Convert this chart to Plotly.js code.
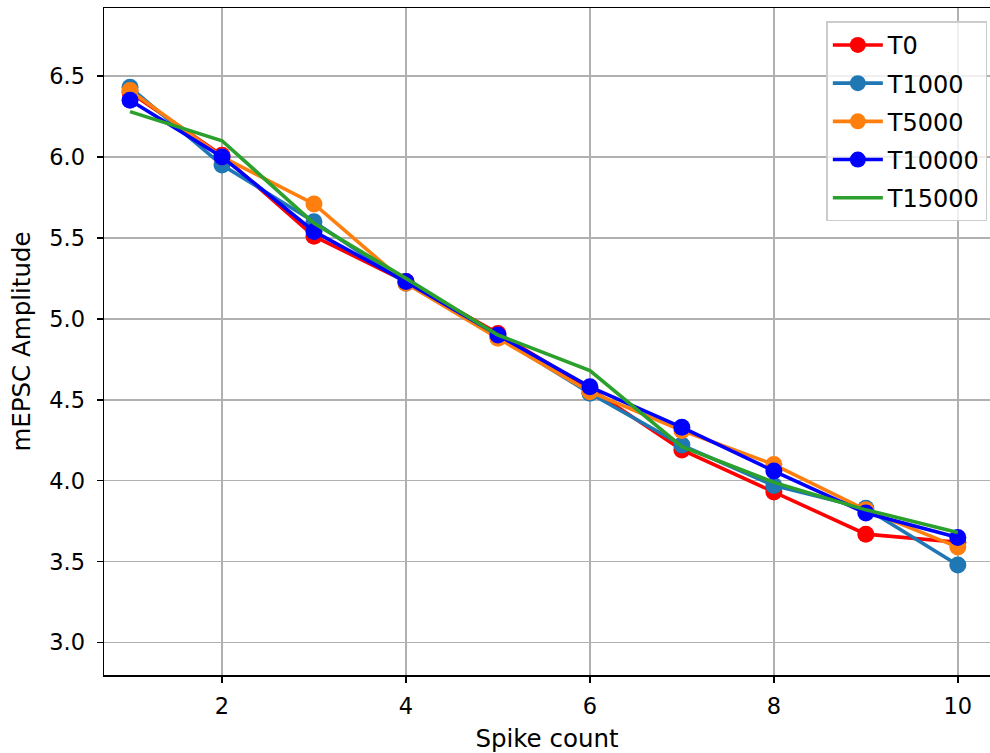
<!DOCTYPE html>
<html>
<head>
<meta charset="utf-8">
<script src="https://cdn.plot.ly/plotly-3.0.1.min.js"></script>
<style>html,body{margin:0;padding:0;background:#fff}#chart{width:990px;height:753px}</style>
</head>
<body>
<div id="chart"></div>
<script>
const spikeCount = [1, 2, 3, 4, 5, 6, 7, 8, 9, 10];
const T0 = [6.40, 6.01, 5.51, 5.23, 4.91, 4.57, 4.19, 3.93, 3.67, 3.62];
const T1000 = [6.43, 5.95, 5.60, 5.22, 4.89, 4.54, 4.22, 3.97, 3.83, 3.48];
const T5000 = [6.41, 6.00, 5.71, 5.22, 4.88, 4.55, 4.31, 4.10, 3.82, 3.59];
const T10000 = [6.35, 6.00, 5.54, 5.23, 4.90, 4.58, 4.33, 4.06, 3.80, 3.65];
const T15000 = [6.28, 6.10, 5.59, 5.25, 4.90, 4.68, 4.21, 3.99, 3.82, 3.68];
const seriesNames = ['T0', 'T1000', 'T5000', 'T10000', 'T15000'];
const seriesValues = [T0, T1000, T5000, T10000, T15000];
const seriesColors = ['#ff0000', '#1f77b4', '#ff7f0e', '#0000ff', '#2ca02c'];
const seriesModes = ['lines+markers', 'lines+markers', 'lines+markers', 'lines+markers', 'lines'];

const traces = seriesNames.map((name, i) => ({
  x: spikeCount,
  y: seriesValues[i],
  name: name,
  legendgroup: name,
  type: 'scatter',
  mode: seriesModes[i],
  line: {color: seriesColors[i], width: 3.6},
  marker: {color: seriesColors[i], size: 17}
}));

const axisCommon = {
  showline: true, linecolor: '#000', linewidth: 1.5, mirror: true,
  ticks: 'outside', ticklen: 6, tickwidth: 1.5, tickcolor: '#000',
  showgrid: true, gridcolor: '#b0b0b0', gridwidth: 1.5,
  zeroline: false,
  tickfont: {family: 'DejaVu Sans', size: 22.5, color: '#000'}
};

const layout = {
  width: 990, height: 753,
  margin: {l: 104, r: 0, t: 8, b: 78},
  paper_bgcolor: '#fff', plot_bgcolor: '#fff',
  font: {family: 'DejaVu Sans', color: '#000'},
  xaxis: Object.assign({}, axisCommon, {
    range: [0.717, 10.35], tickvals: [2, 4, 6, 8, 10],
    ticklabelstandoff: 4,
    title: {text: 'Spike count', font: {family: 'DejaVu Sans', size: 24.5, color: '#000'}, standoff: 14}
  }),
  yaxis: Object.assign({}, axisCommon, {
    range: [2.80, 6.92], tickvals: [3.0, 3.5, 4.0, 4.5, 5.0, 5.5, 6.0, 6.5], tickformat: '.1f',
    ticklabelstandoff: 7,
    title: {text: 'mEPSC Amplitude', font: {family: 'DejaVu Sans', size: 24.5, color: '#000'}, standoff: 11}
  }),
  showlegend: true,
  legend: {
    x: 0.997, y: 0.98, xanchor: 'right', yanchor: 'top',
    traceorder: 'grouped', tracegroupgap: 4,
    bgcolor: 'rgba(255,255,255,0.8)', bordercolor: '#cccccc', borderwidth: 1.5,
    font: {family: 'DejaVu Sans', size: 24, color: '#000'},
    itemwidth: 50
  }
};

Plotly.newPlot('chart', traces, layout, {displayModeBar: false, staticPlot: true});
</script>
</body>
</html>
